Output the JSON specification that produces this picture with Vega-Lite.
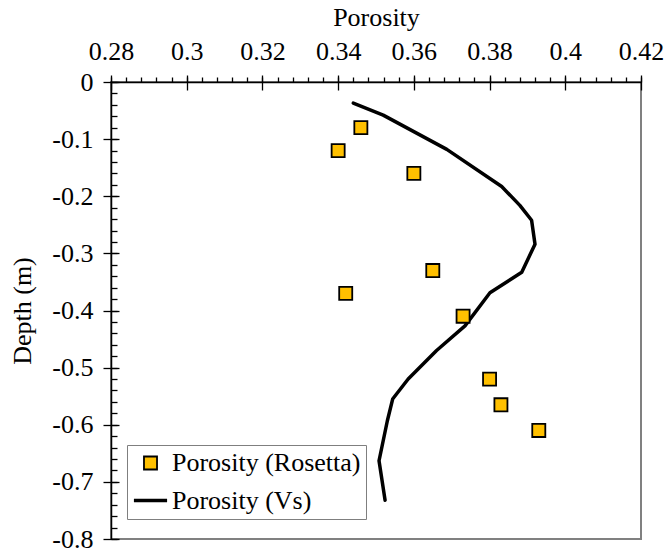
{
  "$schema": "https://vega.github.io/schema/vega-lite/v6.json",
  "width": 530,
  "height": 457,
  "autosize": {"type": "none"},
  "padding": {"left": 111, "top": 82, "right": 28, "bottom": 13},
  "background": "white",
  "config": {
    "font": "Liberation Serif",
    "view": {"stroke": "#808080", "strokeWidth": 2},
    "axis": {
      "grid": false,
      "domainColor": "black",
      "domainWidth": 1.5,
      "tickColor": "black",
      "tickWidth": 1.3,
      "labelFont": "Liberation Serif",
      "labelFontSize": 26,
      "labelColor": "black",
      "titleFont": "Liberation Serif",
      "titleFontSize": 26,
      "titleFontWeight": "normal",
      "titleColor": "black"
    },
    "legend": {
      "orient": "none",
      "legendX": 16,
      "legendY": 363,
      "strokeColor": "#7f7f7f",
      "fillColor": "white",
      "padding": 5,
      "labelFont": "Times New Roman",
      "labelFontSize": 26,
      "labelColor": "black",
      "labelOffset": 3,
      "rowPadding": 6,
      "labelLimit": 400
    }
  },
  "datasets": {
    "rosetta": [
      {"porosity": 0.346, "depth": -0.08, "series": "Porosity (Rosetta)"},
      {"porosity": 0.340, "depth": -0.12, "series": "Porosity (Rosetta)"},
      {"porosity": 0.360, "depth": -0.16, "series": "Porosity (Rosetta)"},
      {"porosity": 0.365, "depth": -0.33, "series": "Porosity (Rosetta)"},
      {"porosity": 0.342, "depth": -0.37, "series": "Porosity (Rosetta)"},
      {"porosity": 0.373, "depth": -0.41, "series": "Porosity (Rosetta)"},
      {"porosity": 0.380, "depth": -0.52, "series": "Porosity (Rosetta)"},
      {"porosity": 0.383, "depth": -0.565, "series": "Porosity (Rosetta)"},
      {"porosity": 0.393, "depth": -0.61, "series": "Porosity (Rosetta)"}
    ],
    "vs": [
      {"porosity": 0.3440, "depth": -0.037},
      {"porosity": 0.3519, "depth": -0.058},
      {"porosity": 0.3687, "depth": -0.118},
      {"porosity": 0.3832, "depth": -0.183},
      {"porosity": 0.3880, "depth": -0.216},
      {"porosity": 0.3911, "depth": -0.242},
      {"porosity": 0.3920, "depth": -0.284},
      {"porosity": 0.3885, "depth": -0.333},
      {"porosity": 0.3801, "depth": -0.369},
      {"porosity": 0.3735, "depth": -0.427},
      {"porosity": 0.3660, "depth": -0.470},
      {"porosity": 0.3585, "depth": -0.520},
      {"porosity": 0.3544, "depth": -0.555},
      {"porosity": 0.3530, "depth": -0.593},
      {"porosity": 0.3508, "depth": -0.663},
      {"porosity": 0.3524, "depth": -0.732}
    ]
  },
  "resolve": {"axis": {"x": "independent", "y": "independent"}},
  "layer": [
    {
      "data": {"name": "vs"},
      "mark": {"type": "line", "stroke": "black", "strokeWidth": 3.5, "strokeCap": "round", "strokeJoin": "round"},
      "encoding": {
        "x": {
          "field": "porosity", "type": "quantitative",
          "scale": {"domain": [0.28, 0.42], "nice": false, "zero": false},
          "axis": {
            "orient": "top", "title": null, "labels": false,
            "values": [0.28, 0.284, 0.288, 0.292, 0.296, 0.3, 0.304, 0.308, 0.312, 0.316, 0.32, 0.324, 0.328, 0.332, 0.336, 0.34, 0.344, 0.348, 0.352, 0.356, 0.36, 0.364, 0.368, 0.372, 0.376, 0.38, 0.384, 0.388, 0.392, 0.396, 0.4, 0.404, 0.408, 0.412, 0.416, 0.42],
            "tickSize": 5
          }
        },
        "y": {
          "field": "depth", "type": "quantitative",
          "scale": {"domain": [-0.8, 0], "nice": false, "zero": false},
          "axis": {
            "orient": "left", "title": null, "labels": false,
            "values": [0, -0.02, -0.04, -0.06, -0.08, -0.1, -0.12, -0.14, -0.16, -0.18, -0.2, -0.22, -0.24, -0.26, -0.28, -0.3, -0.32, -0.34, -0.36, -0.38, -0.4, -0.42, -0.44, -0.46, -0.48, -0.5, -0.52, -0.54, -0.56, -0.58, -0.6, -0.62, -0.64, -0.66, -0.68, -0.7, -0.72, -0.74, -0.76, -0.78, -0.8],
            "tickSize": -6
          }
        },
        "order": {"field": "depth", "sort": "descending"}
      }
    },
    {
      "data": {"name": "rosetta"},
      "mark": {"type": "point", "filled": true, "stroke": "black", "opacity": 1},
      "encoding": {
        "x": {
          "field": "porosity", "type": "quantitative",
          "scale": {"domain": [0.28, 0.42], "nice": false, "zero": false},
          "axis": {
            "orient": "top", "title": "Porosity", "format": ".2~f", "domain": false,
            "values": [0.28, 0.3, 0.32, 0.34, 0.36, 0.38, 0.4, 0.42],
            "offset": -8, "tickSize": 15, "labelPadding": 11, "titlePadding": 8, "labelFlush": false
          }
        },
        "y": {
          "field": "depth", "type": "quantitative",
          "scale": {"domain": [-0.8, 0], "nice": false, "zero": false},
          "axis": {
            "orient": "left", "title": "Depth (m)", "domain": false,
            "values": [0, -0.1, -0.2, -0.3, -0.4, -0.5, -0.6, -0.7, -0.8],
            "labelExpr": "replace(format(datum.value, '.1~f'), '\u2212', '-')",
            "offset": -8, "tickSize": 16, "labelPadding": 10, "titlePadding": 16, "labelFlush": false
          }
        },
        "fill": {
          "field": "series", "type": "nominal",
          "scale": {"domain": ["Porosity (Rosetta)", "Porosity (Vs)"], "range": ["#FFC000", "black"]},
          "legend": {"title": null}
        },
        "shape": {
          "field": "series", "type": "nominal",
          "scale": {"domain": ["Porosity (Rosetta)", "Porosity (Vs)"], "range": ["square", "stroke"]},
          "legend": {"title": null}
        },
        "size": {
          "field": "series", "type": "nominal",
          "scale": {"domain": ["Porosity (Rosetta)", "Porosity (Vs)"], "range": [170, 1100]},
          "legend": {"title": null}
        },
        "strokeWidth": {
          "field": "series", "type": "nominal",
          "scale": {"domain": ["Porosity (Rosetta)", "Porosity (Vs)"], "range": [1.8, 3.5]},
          "legend": {"title": null}
        }
      }
    }
  ]
}
